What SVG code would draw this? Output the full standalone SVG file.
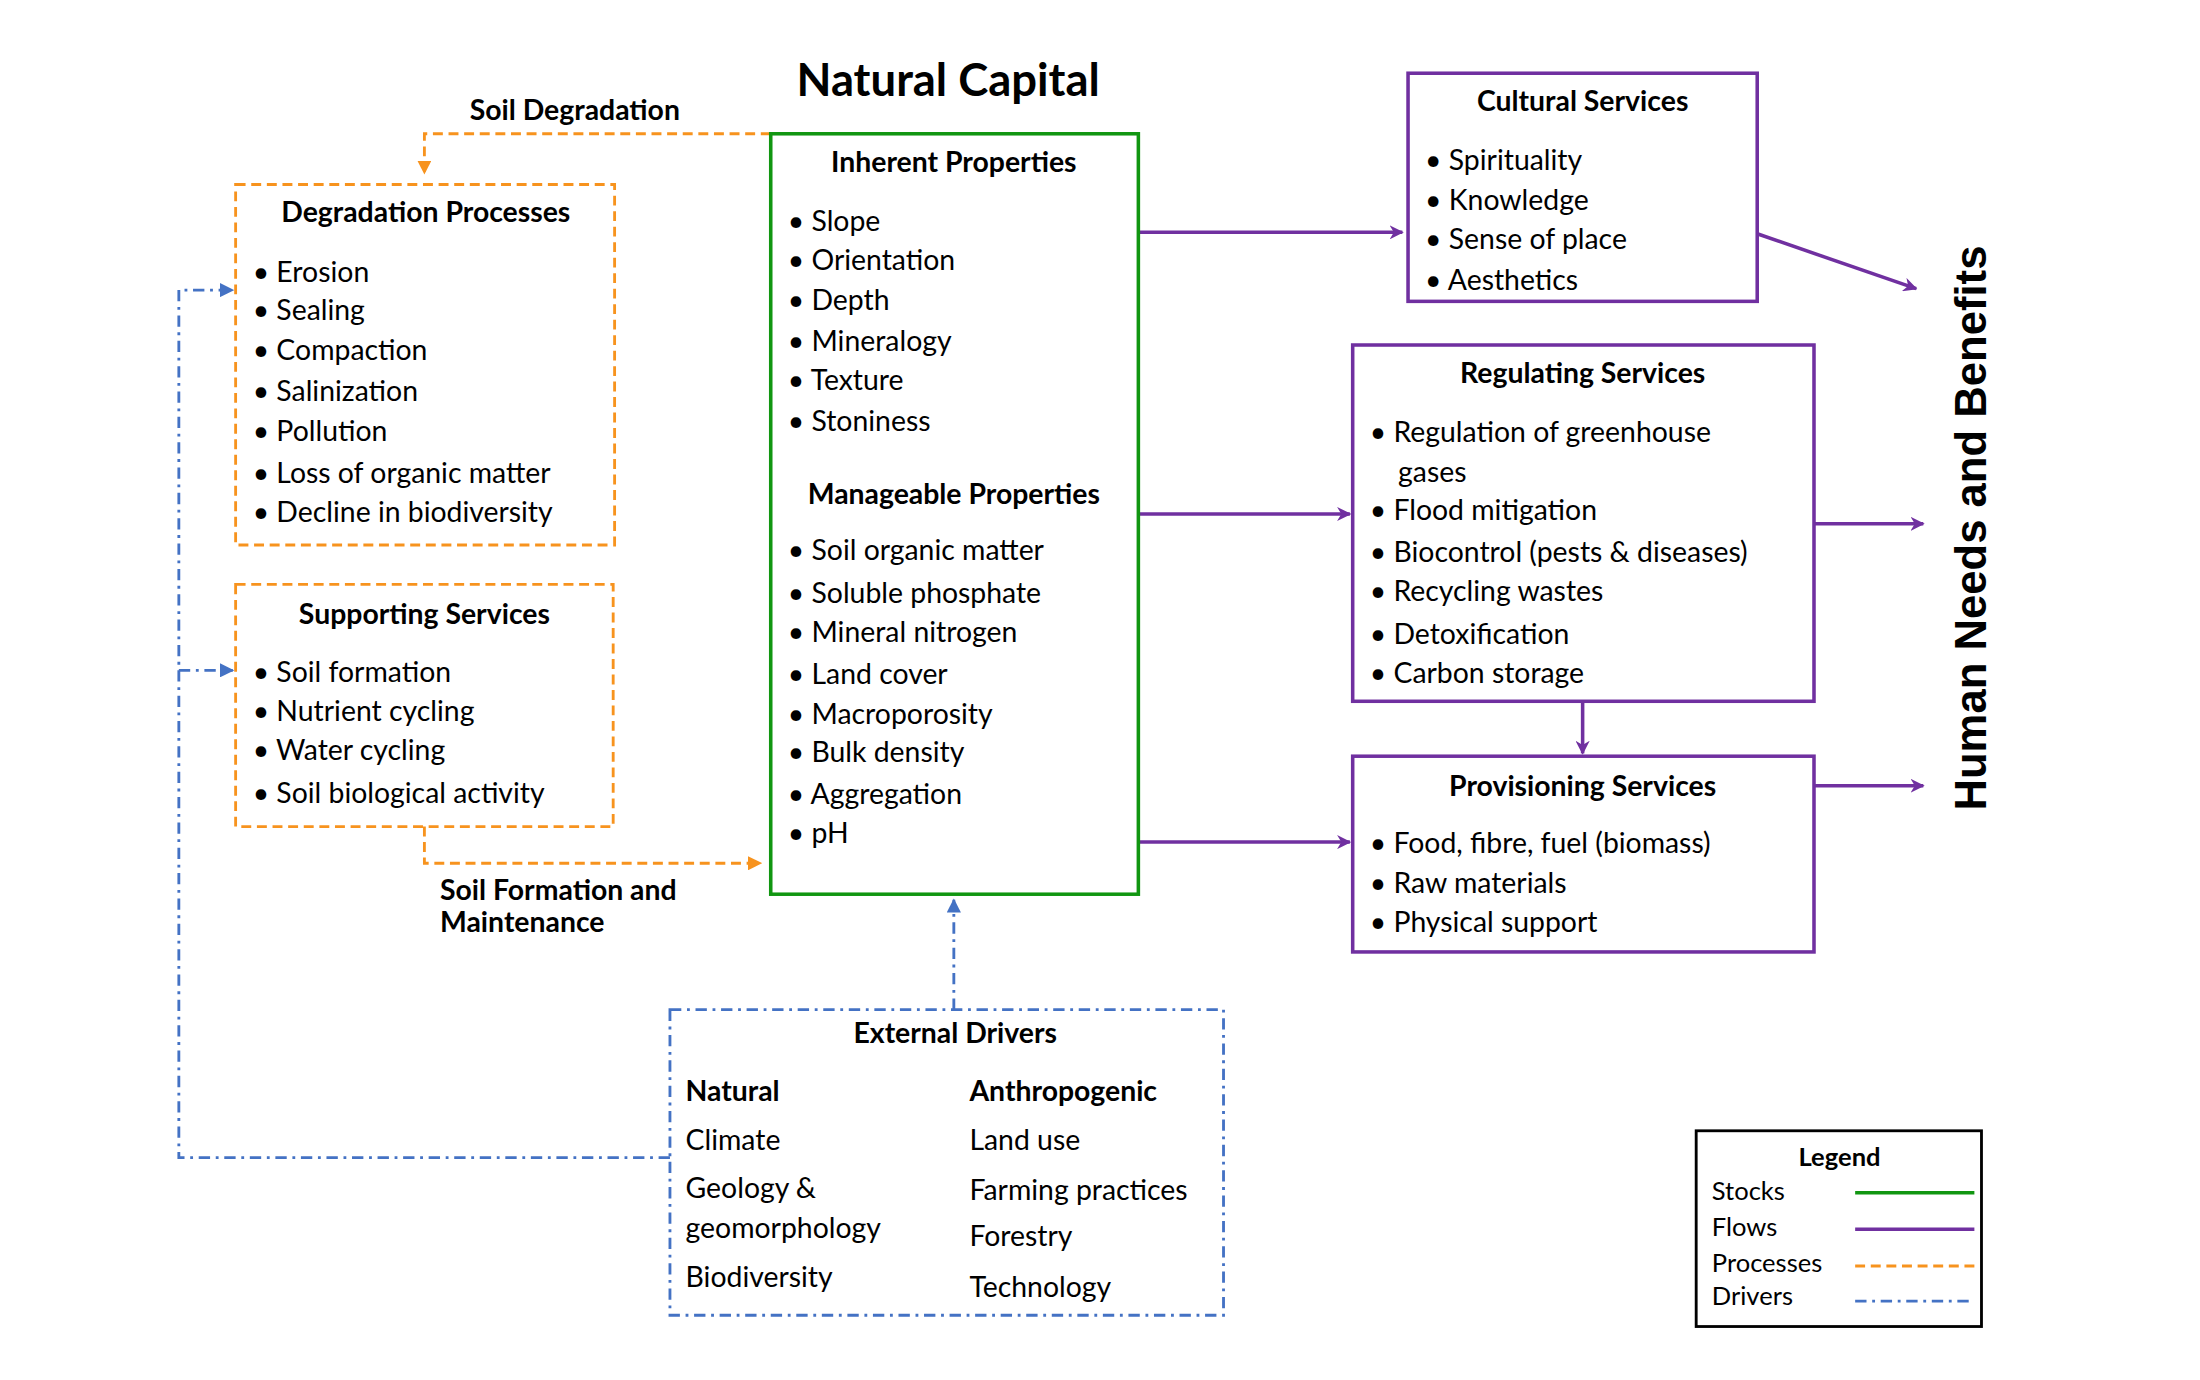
<svg xmlns="http://www.w3.org/2000/svg" width="2200" height="1380" viewBox="0 0 2200 1380">
<defs>
<style>
text{font-family:Lato,"Liberation Sans",sans-serif;font-size:20px;fill:#000}
.b{font-weight:bold}
.c{text-anchor:middle}
.or{fill:none;stroke:#F7931E;stroke-width:2;stroke-dasharray:7,4}
.bl{fill:none;stroke:#4472C4;stroke-width:2;stroke-dasharray:8,4,2,4}
.pu{fill:none;stroke:#7030A0;stroke-width:2.5}
.gr{fill:none;stroke:#119611;stroke-width:2.5}
</style>
<marker id="ao" markerWidth="10" markerHeight="10" refX="8" refY="5" orient="auto" markerUnits="userSpaceOnUse"><path d="M0,0L10,5L0,10Z" fill="#F7931E"/></marker>
<marker id="ap" markerWidth="10" markerHeight="10" refX="9" refY="5" orient="auto" markerUnits="userSpaceOnUse"><path d="M0,0L10,5L0,10L3,5Z" fill="#7030A0"/></marker>
<marker id="ab" markerWidth="10" markerHeight="10" refX="9" refY="5" orient="auto" markerUnits="userSpaceOnUse"><path d="M0,0L10,5L0,10Z" fill="#4472C4"/></marker>
</defs>
<rect width="2200" height="1380" fill="#fff"/>
<g transform="scale(1.4194,1.4082)">
<text x="668" y="68" class="b c" style="font-size:32px">Natural Capital</text>
<g id="connectors">
<path class="or" d="M543,95H299V122" marker-end="url(#ao)"/>
<path class="or" d="M299,587V613H535" marker-end="url(#ao)"/>
<path class="pu" d="M802,165H988" marker-end="url(#ap)"/>
<path class="pu" d="M802,365H951" marker-end="url(#ap)"/>
<path class="pu" d="M802,598H951" marker-end="url(#ap)"/>
<path class="pu" d="M1238,166L1350,205" marker-end="url(#ap)"/>
<path class="pu" d="M1278,372H1355" marker-end="url(#ap)"/>
<path class="pu" d="M1115,498V535" marker-end="url(#ap)"/>
<path class="pu" d="M1278,558H1355" marker-end="url(#ap)"/>
<path class="bl" d="M672,717V639" marker-end="url(#ab)"/>
<path class="bl" d="M472,822H126V206H164" marker-end="url(#ab)"/>
<path class="bl" d="M126,476H164" marker-end="url(#ab)"/>
<text x="405" y="85" class="b c">Soil Degradation</text>
<text x="310" y="639" class="b">Soil Formation and</text>
<text x="310" y="662" class="b">Maintenance</text>
</g>
<g id="degradation">
<rect x="166" y="131" width="267" height="256" class="or"/>
<text x="300" y="158" class="b c">Degradation Processes</text>
<text x="178" y="200">• Erosion</text>
<text x="178" y="227">• Sealing</text>
<text x="178" y="256">• Compaction</text>
<text x="178" y="285">• Salinization</text>
<text x="178" y="313">• Pollution</text>
<text x="178" y="343">• Loss of organic matter</text>
<text x="178" y="371">• Decline in biodiversity</text>
</g>
<g id="supporting">
<rect x="166" y="415" width="266" height="172" class="or"/>
<text x="299" y="443" class="b c">Supporting Services</text>
<text x="178" y="484">• Soil formation</text>
<text x="178" y="512">• Nutrient cycling</text>
<text x="178" y="540">• Water cycling</text>
<text x="178" y="570">• Soil biological activity</text>
</g>
<g id="natural">
<rect x="543" y="95" width="259" height="540" class="gr"/>
<text x="672" y="122" class="b c">Inherent Properties</text>
<text x="555" y="164">• Slope</text>
<text x="555" y="192">• Orientation</text>
<text x="555" y="220">• Depth</text>
<text x="555" y="249">• Mineralogy</text>
<text x="555" y="277">• Texture</text>
<text x="555" y="306">• Stoniness</text>
<text x="672" y="358" class="b c">Manageable Properties</text>
<text x="555" y="398">• Soil organic matter</text>
<text x="555" y="428">• Soluble phosphate</text>
<text x="555" y="456">• Mineral nitrogen</text>
<text x="555" y="486">• Land cover</text>
<text x="555" y="514">• Macroporosity</text>
<text x="555" y="541">• Bulk density</text>
<text x="555" y="571">• Aggregation</text>
<text x="555" y="599">• pH</text>
</g>
<g id="cultural">
<rect x="992" y="52" width="246" height="162" class="pu"/>
<text x="1115" y="79" class="b c">Cultural Services</text>
<text x="1004" y="121">• Spirituality</text>
<text x="1004" y="149">• Knowledge</text>
<text x="1004" y="177">• Sense of place</text>
<text x="1004" y="206">• Aesthetics</text>
</g>
<g id="regulating">
<rect x="953" y="245" width="325" height="253" class="pu"/>
<text x="1115" y="272" class="b c">Regulating Services</text>
<text x="965" y="314">• Regulation of greenhouse</text>
<text x="985" y="342">gases</text>
<text x="965" y="369">• Flood mitigation</text>
<text x="965" y="399">• Biocontrol (pests &amp; diseases)</text>
<text x="965" y="427">• Recycling wastes</text>
<text x="965" y="457">• Detoxification</text>
<text x="965" y="485">• Carbon storage</text>
</g>
<g id="provisioning">
<rect x="953" y="537" width="325" height="139" class="pu"/>
<text x="1115" y="565" class="b c">Provisioning Services</text>
<text x="965" y="606">• Food, fibre, fuel (biomass)</text>
<text x="965" y="634">• Raw materials</text>
<text x="965" y="662">• Physical support</text>
</g>
<g id="human">
<text transform="translate(1399,375) rotate(-90)" class="b c" style="font-family:'Liberation Sans',sans-serif;font-size:31px">Human Needs and Benefits</text>
</g>
<g id="drivers">
<rect x="472" y="717" width="390" height="217" class="bl"/>
<text x="673" y="741" class="b c">External Drivers</text>
<text x="483" y="782" class="b">Natural</text>
<text x="683" y="782" class="b">Anthropogenic</text>
<text x="483" y="817">Climate</text>
<text x="683" y="817">Land use</text>
<text x="483" y="851">Geology &amp;</text>
<text x="683" y="852">Farming practices</text>
<text x="483" y="879">geomorphology</text>
<text x="683" y="885">Forestry</text>
<text x="483" y="914">Biodiversity</text>
<text x="683" y="921">Technology</text>
</g>
<g id="legend">
<rect x="1195" y="803" width="201" height="139" fill="none" stroke="#000" stroke-width="2"/>
<text x="1296" y="828" class="b c" style="font-size:18px">Legend</text>
<text x="1206" y="852" style="font-size:18px">Stocks</text>
<text x="1206" y="878" style="font-size:18px">Flows</text>
<text x="1206" y="903" style="font-size:18px">Processes</text>
<text x="1206" y="927" style="font-size:18px">Drivers</text>
<path d="M1307,847H1391" class="gr"/>
<path d="M1307,873H1391" class="pu"/>
<path d="M1307,899H1391" class="or"/>
<path d="M1307,924H1391" class="bl"/>
</g>
</g>
</svg>
